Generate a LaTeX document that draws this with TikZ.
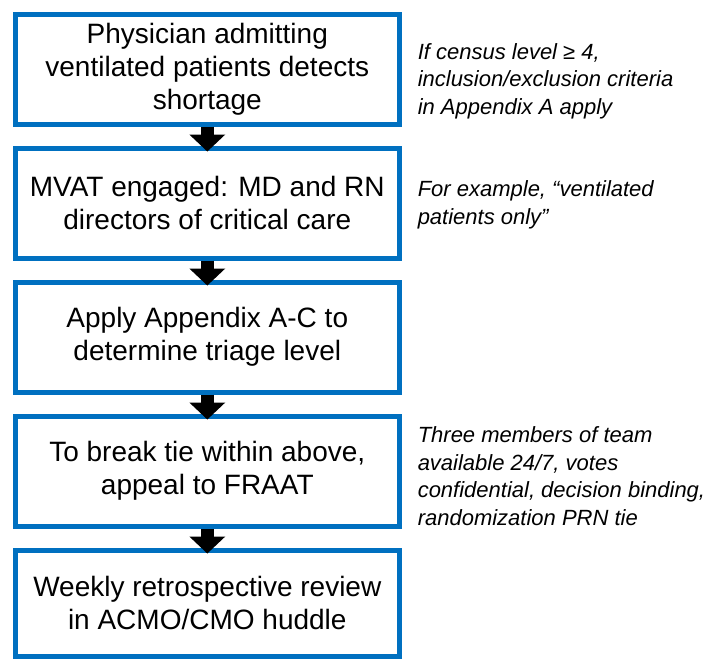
\documentclass[tikz,border=0pt]{standalone}
\usepackage{fontspec}
\setmainfont{Liberation Sans}
\usetikzlibrary{positioning,arrows.meta}
\definecolor{boxblue}{RGB}{0,112,192}

\begin{document}
\begin{tikzpicture}[x=1pt, y=1pt,
                stepbox/.style={rectangle, draw=boxblue, line width=5pt, minimum width=383.5pt, minimum height=110pt, inner sep=4pt, align=center, font=\fontsize{28}{33}\selectfont},
                note/.style={inner sep=0pt, align=left, font=\fontsize{22}{27.5}\selectfont\itshape},
                flow/.style={-{Triangle[width=36pt,length=17pt,line width=0pt]}, line width=13pt, shorten >=-6pt}
            ]
                \useasboundingbox (0,0) rectangle (720,-659);

                \node[stepbox] (detect) at (207.3,-69) {Physician admitting \\ ventilated patients detects \\ shortage};
                \node[stepbox, below=19pt of detect] (mvat) {MVAT engaged: MD and RN \\ directors of critical care};
                \node[stepbox, below=19pt of mvat] (triage) {Apply Appendix A-C to \\ determine triage level};
                \node[stepbox, below=19pt of triage] (fraat) {To break tie within above, \\ appeal to FRAAT};
                \node[stepbox, minimum height=106pt, below=19pt of fraat] (review) {Weekly retrospective review \\ in ACMO/CMO huddle};

                \draw[flow] (detect) -- (mvat);
                \draw[flow] (mvat) -- (triage);
                \draw[flow] (triage) -- (fraat);
                \draw[flow] (fraat) -- (review);

                \node[note, right=16pt of detect, yshift=-12pt] (census) {If census level ≥ 4, \\ inclusion/exclusion criteria \\ in Appendix A apply};
                \node[note, right=16pt of mvat, yshift=-2pt] (example) {For example, “ventilated \\ patients only”};
                \node[note, right=16pt of fraat, yshift=-5pt] (team) {Three members of team \\ available 24/7, votes \\ confidential, decision binding, \\ randomization PRN tie};
            \end{tikzpicture}
\end{document}
